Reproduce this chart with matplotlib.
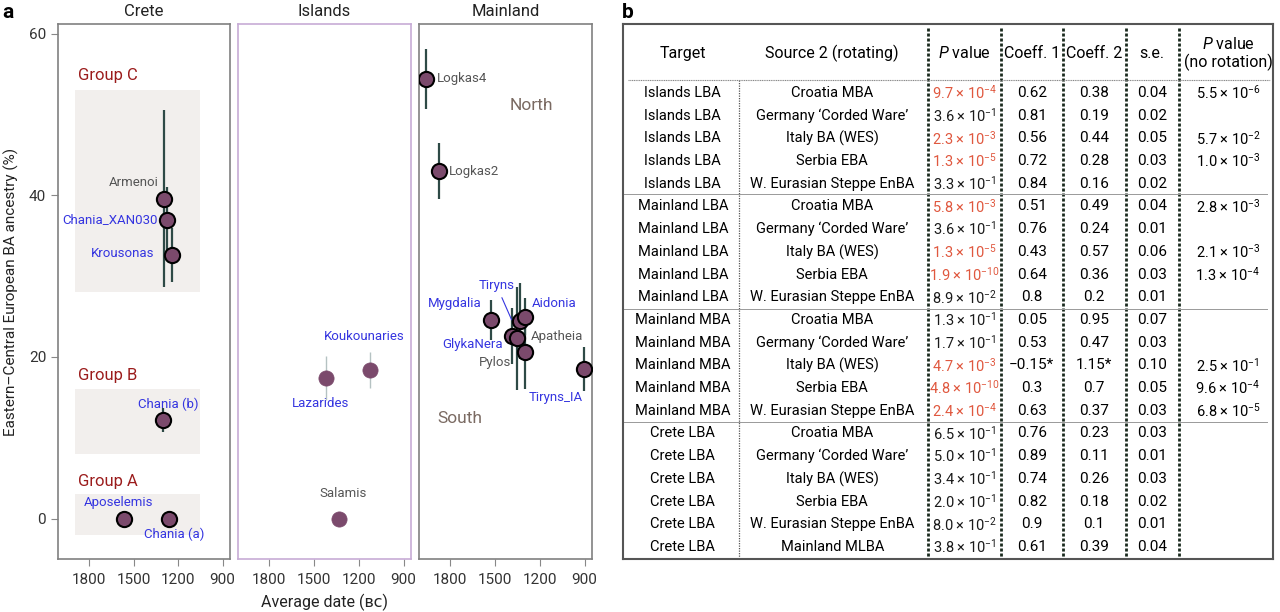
import matplotlib
matplotlib.use("Agg")
import matplotlib.pyplot as plt
from matplotlib.patches import Rectangle

plt.rcParams['font.family'] = ['Roboto', 'DejaVu Sans']
plt.rcParams['mathtext.fontset'] = 'custom'
plt.rcParams['mathtext.rm'] = 'Roboto'
plt.rcParams['mathtext.it'] = 'Roboto:italic'

# ---------------- panel a data ----------------
crete_names = ['Armenoi', 'Chania_XAN030', 'Krousonas', 'Chania (b)', 'Aposelemis', 'Chania (a)']
crete_date = [1294, 1274, 1242, 1305, 1566, 1260]
crete_anc = [39.6, 37.0, 32.6, 12.2, 0.0, 0.0]
crete_err = [11.0, 4.0, 3.3, 1.5, 0.0, 0.0]

islands_names = ['Lazarides', 'Koukounaries', 'Salamis']
islands_date = [1422, 1124, 1334]
islands_anc = [17.4, 18.4, 0.0]
islands_err = [2.7, 2.2, 0.0]

main_names = ['Logkas4', 'Logkas2', 'Mygdalia', 'GlykaNera', 'Pylos', 'Tiryns', 'Aidonia', 'Apatheia', 'Tiryns_IA']
main_date = [1960, 1879, 1529, 1389, 1355, 1333, 1299, 1299, 905]
main_anc = [54.4, 43.0, 24.6, 22.6, 22.3, 24.4, 25.0, 20.6, 18.5]
main_err = [3.7, 3.5, 2.5, 3.5, 6.4, 4.7, 2.3, 4.6, 2.7]

groups = ['Group A', 'Group B', 'Group C']
group_box = [(-2.0, 3.0), (8.0, 16.0), (28.0, 53.0)]
group_label_y = [4.6, 17.7, 54.8]

# ---------------- panel b data ----------------
targets = ['Islands LBA'] * 5 + ['Mainland LBA'] * 5 + ['Mainland MBA'] * 5 + ['Crete LBA'] * 6
sources5 = ['Croatia MBA', 'Germany \u2018Corded Ware\u2019', 'Italy BA (WES)', 'Serbia EBA', 'W. Eurasian Steppe EnBA']
sources = sources5 * 3 + sources5 + ['Mainland MLBA']
pvals = ['9.7e-4', '3.6e-1', '2.3e-3', '1.3e-5', '3.3e-1',
         '5.8e-3', '3.6e-1', '1.3e-5', '1.9e-10', '8.9e-2',
         '1.3e-1', '1.7e-1', '4.7e-3', '4.8e-10', '2.4e-4',
         '6.5e-1', '5.0e-1', '3.4e-1', '2.0e-1', '8.0e-2', '3.8e-1']
coeff1 = ['0.62', '0.81', '0.56', '0.72', '0.84',
          '0.51', '0.76', '0.43', '0.64', '0.8',
          '0.05', '0.53', '\u22120.15*', '0.3', '0.63',
          '0.76', '0.89', '0.74', '0.82', '0.9', '0.61']
coeff2 = ['0.38', '0.19', '0.44', '0.28', '0.16',
          '0.49', '0.24', '0.57', '0.36', '0.2',
          '0.95', '0.47', '1.15*', '0.7', '0.37',
          '0.23', '0.11', '0.26', '0.18', '0.1', '0.39']
se = ['0.04', '0.02', '0.05', '0.03', '0.02',
      '0.04', '0.01', '0.06', '0.03', '0.01',
      '0.07', '0.03', '0.10', '0.05', '0.03',
      '0.03', '0.01', '0.03', '0.02', '0.01', '0.04']
pnorot = ['5.5e-6', '', '5.7e-2', '1.0e-3', '',
          '2.8e-3', '', '2.1e-3', '1.3e-4', '',
          '', '', '2.5e-1', '9.6e-4', '6.8e-5',
          '', '', '', '', '', '']

fill = '#7b4a6c'
bar_dark = '#2e4a46'
blue = '#3535e0'
grey_txt = '#555555'
red = '#9b1c1c'
shade = '#f2efed'
lab_fs = 9.5

fig = plt.figure(figsize=(12.8, 6.12), dpi=100)
W, H = 1280.0, 612.0


def box(l, t, r, b):
    return [l / W, 1 - b / H, (r - l) / W, (b - t) / H]


ax_c = fig.add_axes(box(58, 24, 230, 559))
ax_i = fig.add_axes(box(238, 24, 411, 559))
ax_m = fig.add_axes(box(419, 24, 592, 559))

for ax, title, sc in [(ax_c, 'Crete', '#808080'), (ax_i, 'Islands', '#c7acd6'), (ax_m, 'Mainland', '#808080')]:
    ax.set_xlim(2010, 850)
    ax.set_ylim(-5, 61.2)
    ax.set_xticks([1800, 1500, 1200, 900])
    ax.tick_params(axis='x', labelsize=11, colors='#888888', labelcolor='#333333', length=5, width=0.8, pad=5)
    for s in ax.spines.values():
        s.set_color(sc)
        s.set_linewidth(1.2)
    ax.text(0.5, 1 + 12.0 / 535, title, transform=ax.transAxes, ha='center', va='center', fontsize=12, color='#222222')

ax_c.set_yticks([0, 20, 40, 60])
ax_c.tick_params(axis='y', labelsize=11, colors='#888888', labelcolor='#333333', length=5, width=0.8)
ax_i.set_yticks([])
ax_m.set_yticks([])
ax_c.set_ylabel('Eastern\u2013Central European BA ancestry (%)', fontsize=11, color='#222222', labelpad=7)
ax_i.set_xlabel('Average date (\u0299\u1d04)', fontsize=11.5, color='#222222', labelpad=5)

# Crete
for g, (lo, hi), ly in zip(groups, group_box, group_label_y):
    ax_c.add_patch(Rectangle((1895, lo), 1050 - 1895, hi - lo, color=shade, zorder=0, lw=0))
    ax_c.text(1876, ly, g, color=red, fontsize=12, va='center', ha='left')

ax_c.errorbar(crete_date, crete_anc, yerr=crete_err, fmt='none', ecolor=bar_dark, elinewidth=1.6, zorder=2)
ax_c.scatter(crete_date, crete_anc, s=120, c=fill, edgecolors='black', linewidths=1.5, zorder=3)
c_lab = {'Armenoi': (1329, 41.6, 'right', grey_txt), 'Chania_XAN030': (1336, 37.0, 'right', blue),
         'Krousonas': (1357, 32.8, 'right', blue), 'Chania (b)': (1267, 14.1, 'center', blue),
         'Aposelemis': (1600, 2.0, 'center', blue), 'Chania (a)': (1229, -2.0, 'center', blue)}
for n in crete_names:
    x, y, ha, col = c_lab[n]
    ax_c.text(x, y, n, ha=ha, va='center', fontsize=lab_fs, color=col)

# Islands
ax_i.errorbar(islands_date, islands_anc, yerr=islands_err, fmt='none', ecolor='#b5c2c2', elinewidth=1.0, zorder=2)
ax_i.scatter(islands_date, islands_anc, s=120, c=fill, edgecolors=fill, linewidths=0.5, zorder=3)
i_lab = {'Lazarides': (1456, 14.3, blue), 'Koukounaries': (1161, 22.5, blue), 'Salamis': (1303, 3.1, grey_txt)}
for n in islands_names:
    x, y, col = i_lab[n]
    ax_i.text(x, y, n, ha='center', va='center', fontsize=lab_fs, color=col)

# Mainland
ax_m.errorbar(main_date, main_anc, yerr=main_err, fmt='none', ecolor=bar_dark, elinewidth=1.6, zorder=2)
ax_m.scatter(main_date, main_anc, s=120, c=fill, edgecolors='black', linewidths=1.5, zorder=3)
m_lab = {'Logkas4': (1893, 54.4, 'left', grey_txt), 'Logkas2': (1812, 43.0, 'left', grey_txt),
         'Mygdalia': (1773, 26.6, 'center', blue), 'GlykaNera': (1651, 21.5, 'center', blue),
         'Pylos': (1394, 19.3, 'right', grey_txt), 'Aidonia': (1252, 26.6, 'left', blue),
         'Apatheia': (1259, 22.5, 'left', grey_txt), 'Tiryns_IA': (1096, 15.0, 'center', blue)}
for n in main_names:
    if n == 'Tiryns':
        continue
    x, y, ha, col = m_lab[n]
    ax_m.text(x, y, n, ha=ha, va='center', fontsize=lab_fs, color=col)
ax_m.annotate('Tiryns', xy=(1389, 24.6), xytext=(1489, 28.8), ha='center', va='center', fontsize=lab_fs,
              color=blue, arrowprops=dict(arrowstyle='-', color=blue, lw=0.8, shrinkA=2, shrinkB=0))
ax_m.text(1259, 51.1, 'North', ha='center', va='center', fontsize=12.5, color='#7a6a62')
ax_m.text(1739, 12.4, 'South', ha='center', va='center', fontsize=12.5, color='#7a6a62')

fig.text(2 / W, 1 - 12 / H, 'a', fontsize=15, fontweight='bold', va='center', ha='left')
fig.text(622 / W, 1 - 12 / H, 'b', fontsize=15, fontweight='bold', va='center', ha='left')

# ---------------- panel b table ----------------
ax_t = fig.add_axes(box(623, 24, 1273, 559))
nrow = len(targets)
ax_t.set_xlim(0, 1)
ax_t.set_ylim(20.53, -3.04)
ax_t.set_xticks([])
ax_t.set_yticks([])
for s in ax_t.spines.values():
    s.set_color('#555555')
    s.set_linewidth(1.5)

col_x = [0.092, 0.322, 0.525, 0.629, 0.725, 0.814, 0.931]
dash_x = [0.469, 0.582, 0.677, 0.774, 0.855]
ax_t.plot([0.178, 0.178], [-0.57, 20.53], color='#555555', lw=0.9, ls=(0, (1, 1)))
for x in dash_x:
    ax_t.plot([x, x], [-2.86, 20.53], color='#1a2a1e', lw=2.0, ls=(0, (1.1, 0.7)))
ax_t.plot([0.008, 0.995], [-0.57, -0.57], color='#888888', lw=0.8, ls=(0, (1, 0.6)))
for yl in [4.45, 9.5, 14.5]:
    ax_t.plot([0.0, 0.99], [yl, yl], color='#999999', lw=0.7)

hdr_fs = 11.5
ax_t.text(col_x[0], -1.76, 'Target', ha='center', va='center', fontsize=hdr_fs)
ax_t.text(col_x[1], -1.76, 'Source 2 (rotating)', ha='center', va='center', fontsize=hdr_fs)
ax_t.text(col_x[2], -1.76, '$P$ value', ha='center', va='center', fontsize=hdr_fs)
ax_t.text(col_x[3], -1.76, 'Coeff. 1', ha='center', va='center', fontsize=hdr_fs)
ax_t.text(col_x[4], -1.76, 'Coeff. 2', ha='center', va='center', fontsize=hdr_fs)
ax_t.text(col_x[5], -1.76, 's.e.', ha='center', va='center', fontsize=hdr_fs)
ax_t.text(col_x[6], -2.18, '$P$ value', ha='center', va='center', fontsize=hdr_fs)
ax_t.text(col_x[6], -1.35, '(no rotation)', ha='center', va='center', fontsize=hdr_fs)


def sci(s):
    m, e = s.split('e')
    return m + ' \u00d7 10$^{' + e.replace('-', '\u2212') + '}$'


fs = 10.5
for i in range(nrow):
    ax_t.text(col_x[0], i, targets[i], ha='center', va='center', fontsize=fs)
    ax_t.text(col_x[1], i, sources[i], ha='center', va='center', fontsize=fs)
    pcol = '#e0583f' if float(pvals[i]) < 0.01 else '#1a1a1a'
    ax_t.text(col_x[2], i, sci(pvals[i]), ha='center', va='center', fontsize=fs, color=pcol)
    ax_t.text(col_x[3], i, coeff1[i], ha='center', va='center', fontsize=fs + 0.5)
    ax_t.text(col_x[4], i, coeff2[i], ha='center', va='center', fontsize=fs + 0.5)
    ax_t.text(col_x[5], i, se[i], ha='center', va='center', fontsize=fs + 0.5)
    if pnorot[i]:
        ax_t.text(col_x[6], i, sci(pnorot[i]), ha='center', va='center', fontsize=fs)

fig.savefig('out.png', dpi=100)
